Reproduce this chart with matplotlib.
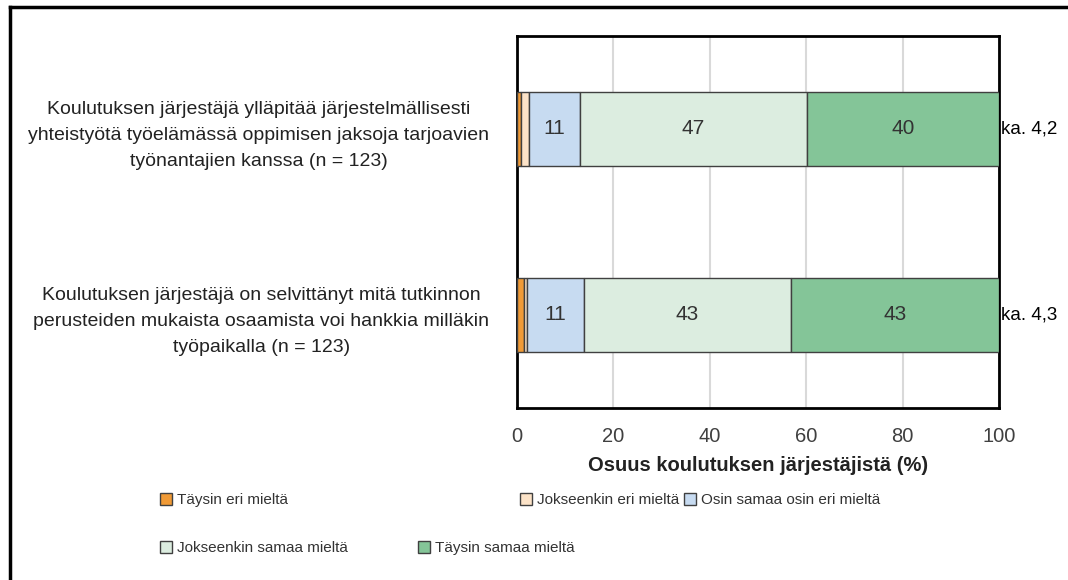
import matplotlib.pyplot as plt
from matplotlib.lines import Line2D

# väitteet
kysymykset = [
    'Koulutuksen järjestäjä ylläpitää järjestelmällisesti\nyhteistyötä työelämässä oppimisen jaksoja tarjoavien\ntyönantajien kanssa (n = 123)',
    'Koulutuksen järjestäjä on selvittänyt mitä tutkinnon\nperusteiden mukaista osaamista voi hankkia milläkin\ntyöpaikalla (n = 123)',
]
sarjat = ['Täysin eri mieltä', 'Jokseenkin eri mieltä', 'Osin samaa osin eri mieltä',
          'Jokseenkin samaa mieltä', 'Täysin samaa mieltä']
taysin_eri = [0.8, 1.5]
jokseenkin_eri = [1.6, 0.6]
osin = [10.6, 11.8]
jokseenkin_samaa = [47.2, 42.9]
taysin_samaa = [39.8, 43.2]
nakyvat = [[None, None, '11', '47', '40'], [None, None, '11', '43', '43']]
keskiarvot = ['ka. 4,2', 'ka. 4,3']
xticks = [0, 20, 40, 60, 80, 100]

varit = ['#F09A36', '#FCE3C8', '#C7DBF1', '#DCEDE0', '#84C598']

plt.rcParams['font.family'] = ['Liberation Sans', 'DejaVu Sans']

fig = plt.figure(figsize=(10.68, 5.8), dpi=100)
ax = fig.add_axes([517 / 1068, 1 - 408 / 580, (999 - 517) / 1068, (408 - 36) / 580])

arvot = [taysin_eri, jokseenkin_eri, osin, jokseenkin_samaa, taysin_samaa]
y = [0, 1]
vasen = [0, 0]
palkit = []
for i, (s, v) in enumerate(zip(sarjat, arvot)):
    b = ax.barh(y, v, left=vasen, height=0.4, color=varit[i], edgecolor='#404040',
                linewidth=1, label=s, zorder=3)
    palkit.append(b)
    for j in range(2):
        if nakyvat[j][i]:
            ax.text(vasen[j] + v[j] / 2, y[j], nakyvat[j][i], ha='center', va='center',
                    fontsize=15, color='#333333', zorder=4)
    vasen = [vasen[k] + v[k] for k in range(2)]

for j in range(2):
    ax.text(100.4, y[j], keskiarvot[j], ha='left', va='center', fontsize=13.5,
            color='black')

ax.set_xlim(0, 100)
ax.set_ylim(1.5, -0.5)
ax.set_xticks(xticks)
ax.set_xticklabels([str(t) for t in xticks], fontsize=14.5, color='#404040')
ax.set_yticks(y)
ax.set_yticklabels(kysymykset, fontsize=14, color='#222222', multialignment='center',
                   linespacing=1.7)
ax.tick_params(length=0, pad=20)
ax.tick_params(axis='x', pad=14)
ax.grid(axis='x', color='#D9D9D9', linewidth=1.5, zorder=0)
for sp in ax.spines.values():
    sp.set_linewidth(2)
    sp.set_color('black')
ax.set_xlabel('Osuus koulutuksen järjestäjistä (%)', fontsize=14.5, fontweight='bold',
              color='#222222', labelpad=7)

# selite (Excelin tapaan vapaasti sijoitettu)
paikat = [(160, 500), (520, 500), (684, 500), (160, 548), (418, 548)]
for b, s, (px, py) in zip(palkit, sarjat, paikat):
    fig.legend([b], [s], loc='center left', bbox_to_anchor=(px / 1068, 1 - py / 580),
               frameon=False, fontsize=11, handlelength=0.8, handleheight=0.8,
               handletextpad=0.3, borderpad=0, borderaxespad=0, labelcolor='#333333')

# kehys
fig.add_artist(Line2D([10 / 1068, 1], [1 - 7 / 580] * 2, color='black', lw=2.5))
fig.add_artist(Line2D([10 / 1068] * 2, [0, 1 - 7 / 580], color='black', lw=2.5))

fig.savefig('out.png', dpi=100)
